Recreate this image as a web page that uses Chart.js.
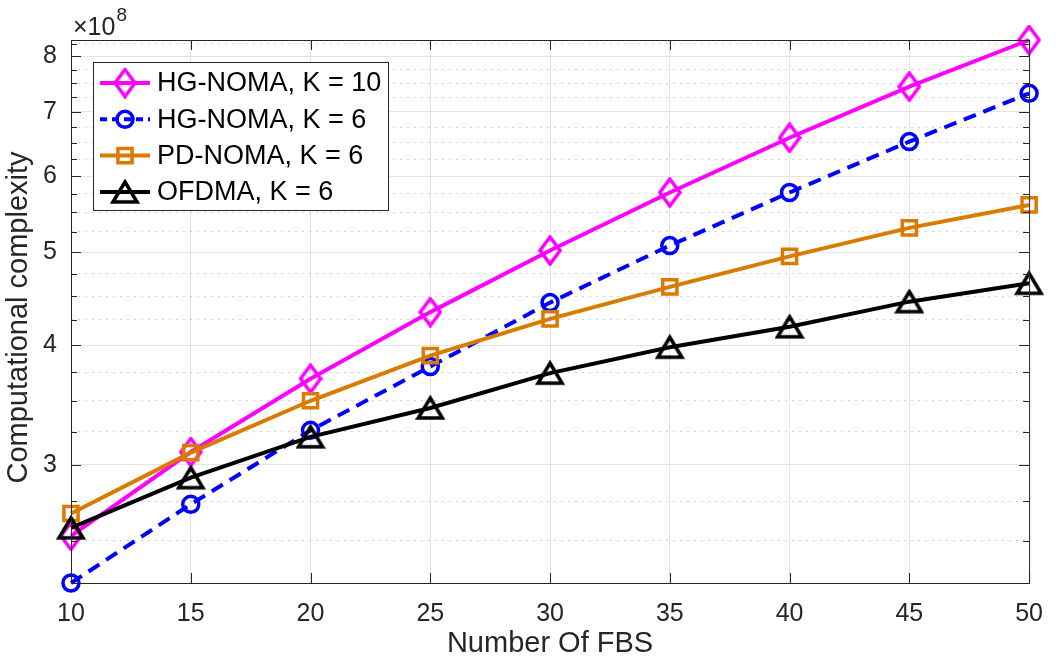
<!DOCTYPE html>
<html>
<head>
<meta charset="utf-8">
<script src="https://cdn.jsdelivr.net/npm/chart.js@4.4.1/dist/chart.umd.min.js"></script>
<style>
  html, body { margin:0; padding:0; background:#fff; }
  #wrap { width:1059px; height:669px; }
</style>
</head>
<body>
<div id="wrap"><canvas id="grafico"></canvas></div>
<script>
// dados
const fbs = [10, 15, 20, 25, 30, 35, 40, 45, 50];
const hgNomaK10 = [2.53e8, 3.095e8, 3.69e8, 4.33e8, 5.02e8, 5.77e8, 6.58e8, 7.44e8, 8.32e8];
const hgNomaK6  = [2.26e8, 2.73e8, 3.26e8, 3.80e8, 4.43e8, 5.08e8, 5.77e8, 6.52e8, 7.32e8];
const pdNomaK6  = [2.67e8, 3.09e8, 3.50e8, 3.90e8, 4.26e8, 4.60e8, 4.95e8, 5.30e8, 5.60e8];
const ofdmaK6   = [2.58e8, 2.91e8, 3.21e8, 3.44e8, 3.74e8, 3.98e8, 4.18e8, 4.44e8, 4.64e8];
const yMajor = [3e8, 4e8, 5e8, 6e8, 7e8, 8e8];
const yMinor = [2.5e8, 2.75e8, 3.25e8, 3.5e8, 3.75e8, 4.25e8, 4.5e8, 4.75e8, 5.25e8, 5.5e8, 5.75e8,
                6.25e8, 6.5e8, 6.75e8, 7.25e8, 7.5e8, 7.75e8, 8.25e8];
const yMin = 2.26e8, yMax = 8.32e8;

const FONT = "'Liberation Sans', Arial, Helvetica, sans-serif";
const pts = arr => fbs.map((v, i) => ({x: v, y: arr[i]}));
const none = 'rgba(0,0,0,0)';

// marcadores no estilo MATLAB (losango mais alto, triângulo centrado na caixa)
function marcador(w, h, color, path) {
  const c = document.createElement('canvas');
  c.width = w; c.height = h;
  const g = c.getContext('2d');
  g.strokeStyle = color; g.lineWidth = 3.5; g.lineJoin = 'miter';
  g.beginPath(); path(g, w, h); g.closePath(); g.stroke();
  return c;
}
const losango = marcador(24, 31, '#FF00FF', (g, w, h) => {
  g.moveTo(w / 2, 2); g.lineTo(w - 2, h / 2); g.lineTo(w / 2, h - 2); g.lineTo(2, h / 2);
});
const triangulo = marcador(30, 26, '#000000', (g, w, h) => {
  g.moveTo(w / 2, 3); g.lineTo(w - 3, h - 3); g.lineTo(3, h - 3);
});

const series = [
  {label:'HG-NOMA, K = 10', data:hgNomaK10, color:'#FF00FF', style:losango,   r:12, dash:[]},
  {label:'HG-NOMA, K = 6',  data:hgNomaK6,  color:'#0000FF', style:'circle',  r:8,  dash:[13, 8]},
  {label:'PD-NOMA, K = 6',  data:pdNomaK6,  color:'#DA7B00', style:'rect',    r:10, dash:[]},
  {label:'OFDMA, K = 6',    data:ofdmaK6,   color:'#000000', style:triangulo, r:13, dash:[]}
];

// moldura, ticks internos, rótulo do eixo y, expoente e legenda
const moldura = {
  id: 'moldura',
  afterDraw(chart) {
    const {ctx, chartArea: a, scales: {x, y}} = chart;
    ctx.save();
    ctx.strokeStyle = '#262626'; ctx.lineWidth = 1;
    ctx.strokeRect(a.left + 0.5, a.top + 0.5, a.right - a.left, a.bottom - a.top);
    ctx.beginPath();
    fbs.forEach(v => {
      const px = Math.round(x.getPixelForValue(v)) + 0.5;
      ctx.moveTo(px, a.bottom); ctx.lineTo(px, a.bottom - 10);
      ctx.moveTo(px, a.top); ctx.lineTo(px, a.top + 10);
    });
    yMajor.concat(yMinor).forEach(v => {
      const py = Math.round(y.getPixelForValue(v)) + 0.5;
      const len = yMajor.includes(v) ? 10 : 6;
      ctx.moveTo(a.left, py); ctx.lineTo(a.left + len, py);
      ctx.moveTo(a.right, py); ctx.lineTo(a.right - len, py);
    });
    ctx.stroke();

    // rótulo do eixo y
    ctx.save();
    ctx.translate(19, (a.top + a.bottom) / 2 + 6);
    ctx.rotate(-Math.PI / 2);
    ctx.fillStyle = '#262626';
    ctx.font = `29px ${FONT}`;
    ctx.textAlign = 'center'; ctx.textBaseline = 'middle';
    ctx.fillText('Computational complexity', 0, 0);
    ctx.restore();

    // ×10^8
    ctx.fillStyle = '#262626';
    ctx.textBaseline = 'alphabetic'; ctx.textAlign = 'left';
    ctx.font = `25px ${FONT}`;
    ctx.fillText('\u00d710', a.left + 2, a.top - 5);
    const w = ctx.measureText('\u00d710').width;
    ctx.font = `19px ${FONT}`;
    ctx.fillText('8', a.left + 3 + w, a.top - 19);

    // legenda
    const lx = a.left + 22, ly = a.top + 22, lw = 295, lh = 148;
    ctx.fillStyle = '#fff';
    ctx.fillRect(lx, ly, lw, lh);
    ctx.strokeStyle = '#262626'; ctx.lineWidth = 1;
    ctx.strokeRect(lx + 0.5, ly + 0.5, lw, lh);
    chart.data.datasets.forEach((ds, i) => {
      const s = series[i];
      const cy = ly + 21 + i * 36.3;
      ctx.strokeStyle = s.color; ctx.lineWidth = 4;
      ctx.setLineDash(s.dash.length ? [7, 5] : []);
      ctx.beginPath(); ctx.moveTo(lx + 7, cy); ctx.lineTo(lx + 57, cy); ctx.stroke();
      ctx.setLineDash([]);
      ctx.fillStyle = none; ctx.lineWidth = 3.5;
      Chart.helpers.drawPoint(ctx, {pointStyle: s.style, radius: s.r, rotation: 0, borderWidth: 3.5}, lx + 32, cy);
      ctx.fillStyle = '#000';
      ctx.font = `27px ${FONT}`;
      ctx.textBaseline = 'middle';
      ctx.fillText(ds.label, lx + 64, cy + 1);
    });
    ctx.restore();
  }
};

new Chart(document.getElementById('grafico'), {
  type: 'line',
  data: {
    datasets: series.map((s, i) => ({
      label: s.label,
      data: pts(s.data),
      borderColor: s.color,
      backgroundColor: none,
      borderWidth: 4,
      borderDash: s.dash,
      pointStyle: s.style,
      pointRadius: s.r,
      pointHoverRadius: s.r,
      pointBorderWidth: 3.5,
      pointBorderColor: s.color,
      pointBackgroundColor: none,
      tension: 0,
      clip: false,
      order: series.length - i
    }))
  },
  options: {
    responsive: true, maintainAspectRatio: false, animation: false,
    devicePixelRatio: 1,
    layout: {padding: {top: 40, right: 25, left: 0, bottom: 0}},
    plugins: {legend: {display: false}, tooltip: {enabled: false}},
    scales: {
      x: {
        type: 'linear', min: 10, max: 50,
        afterFit(s) { s.height = 86; },
        afterBuildTicks(s) { s.ticks = fbs.map(v => ({value: v})); },
        grid: {color: '#e4e4e4', lineWidth: 1, drawTicks: false},
        border: {display: false},
        ticks: {padding: 16, color: '#262626', font: {family: FONT, size: 25}, autoSkip: false, maxRotation: 0},
        title: {display: true, text: 'Number Of FBS', color: '#262626', font: {family: FONT, size: 29}, padding: {bottom: 8}}
      },
      y: {
        type: 'logarithmic', min: yMin, max: yMax,
        afterFit(s) { s.width = 71; },
        afterBuildTicks(s) {
          s.ticks = yMinor.concat(yMajor).sort((a, b) => a - b).map(v => ({value: v}));
        },
        grid: {
          drawTicks: false, lineWidth: 1,
          color: c => yMajor.includes(c.tick.value) ? '#e4e4e4' : 'rgba(120,120,120,0.35)'
        },
        border: {display: false, dash: c => (c.tick && yMajor.includes(c.tick.value)) ? [] : [2, 5]},
        ticks: {
          padding: 14, color: '#262626', font: {family: FONT, size: 25}, autoSkip: false,
          callback: v => yMajor.includes(v) ? String(v / 1e8) : ''
        }
      }
    }
  },
  plugins: [moldura]
});
</script>
</body>
</html>
